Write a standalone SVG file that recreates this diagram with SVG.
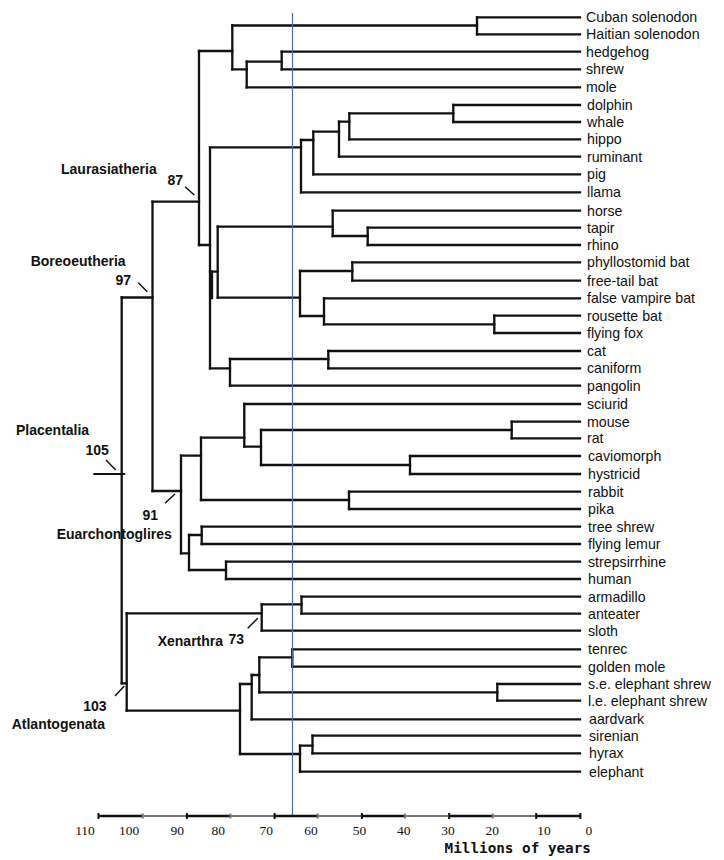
<svg xmlns="http://www.w3.org/2000/svg" width="724" height="860" viewBox="0 0 724 860">
<style>
.br{fill:none;stroke:#111;stroke-width:2.3;stroke-linecap:square;stroke-linejoin:miter}
.tk{fill:none;stroke:#111;stroke-width:1.5}
.leaf{font-family:"Liberation Sans",Arial,sans-serif;font-size:14.2px;fill:#111}
.cl{font-family:"Liberation Sans",Arial,sans-serif;font-size:14px;font-weight:bold;fill:#111}
.num{font-family:"Liberation Serif","Times New Roman",serif;font-size:13.5px;fill:#111;text-anchor:middle}
.axb{stroke:#111;stroke-width:2.6}
.axg{stroke:#777;stroke-width:2.2}
</style>
<rect width="724" height="860" fill="#fff"/>
<g id="connectors">
<path class="br" d="M477 17.3H580M477 34.3H580M281.7 51.7H580M281.7 69.3H580M246.7 87.3H580M453.3 105H580M453.3 122H580M349.3 139.3H580M339 156.7H580M313.3 174.3H580M301 192.3H580M332.7 210.7H580M367.7 227.7H580M367.7 245H580M352.3 262.3H580M352.3 280.7H580M324 298.3H580M494.3 315.7H580M494.3 333H580M328.3 351H580M328.3 368.3H580M230 385.7H580"/>
<path class="br" d="M244.3 404H580M511.7 421.7H580M511.7 438.3H580M410 456H580M410 474H580M349 491.7H580M349 509H580M201.7 526.7H580M201.7 544H580M226 561.7H580M226 579H580M301.5 596.7H580M301.5 613.7H580M261.7 630.7H580M292.3 649.3H580M292.3 666.7H580M497.3 684H580M497.3 700.7H580M251.7 719.3H580M312.5 735.7H580M312.5 753.3H580M300 771.7H580"/>
<path class="br" d="M232.3 25.5H477M232.3 69.3H246.7M246.7 61.7H281.7M199 51H232.3M199 245H210M210 147.3H301M301 140H313.3M313.3 131.7H339M339 121.7H349.3M349.3 113.3H453.3M210 271.7H217.7M217.7 226.7H332.7M332.7 236H367.7M217.7 297.7H300M300 271H352.3M300 316H324M324 324.3H494.3M210 368.3H230M230 359H328.3M152.5 201.7H199M121.7 297.5H152.5"/>
<path class="br" d="M152.5 491H181M181 455.7H201M201 437.7H244.3M244.3 446.7H261M261 430H511.7M261 465H410M201 500H349M181 553.3H189M189 535H201.7M189 570H226M121.7 683.3H126.7M126.7 613.3H261.7M261.7 604.3H301.5M126.7 710.7H240M240 684H251.7M251.7 675H259.3M259.3 657.3H292.3M259.3 692.3H497.3M240 754H300M300 745.7H312.5"/>
<path class="br" d="M477 17.3V34.3M281.7 51.7V69.3M246.7 61.7V87.3M232.3 25.5V69.3M199 51V245M210 147.3V368.3M212 271.7V298M217.7 226.7V297.7M301 140V192.3M313.3 131.7V174.3M339 121.7V156.7M349.3 113.3V139.3M453.3 105V122M332.7 210.7V236M367.7 227.7V245M300 271V316M352.3 262.3V280.7M324 298.3V324.3M494.3 315.7V333M230 359V385.7M328.3 351V368.3"/>
<path class="br" d="M152.5 201.7V491M121.7 297.5V683.3M126.7 613.3V710.7M181 455.7V553.3M201 437.7V500M244.3 404V446.7M261 430V465M511.7 421.7V438.3M410 456V474M349 491.7V509M189 535V570M201.7 526.7V544M226 561.7V579M261.7 604.3V630.7M301.5 596.7V613.7M240 684V754M251.7 675V719.3M259.3 657.3V692.3M292.3 649.3V666.7M497.3 684V700.7M300 745.7V771.7M312.5 735.7V753.3"/>
<path class="tk" d="M185 186.7L194.3 195M138.3 282.7L147.3 291.7M106 460L115.7 470M165 503.3L175 494M247.7 628.3L257.7 618.3M115 696L124.3 686"/>
<path class="br" style="stroke-width:1.8" d="M94.3 474H124.3"/>
</g>
<line x1="292.5" y1="13" x2="292.5" y2="816" stroke="#4a6ea3" stroke-width="1.2"/>
<g id="axis">
<line class="axb" x1="98.5" y1="816" x2="142.7" y2="816"/>
<line class="axg" x1="142.7" y1="816" x2="186.9" y2="816"/>
<line class="axb" x1="186.9" y1="816" x2="230.4" y2="816"/>
<line class="axg" x1="230.4" y1="816" x2="274.6" y2="816"/>
<line class="axb" x1="274.6" y1="816" x2="317.7" y2="816"/>
<line class="axg" x1="317.7" y1="816" x2="361.9" y2="816"/>
<line class="axb" x1="361.9" y1="816" x2="405" y2="816"/>
<line class="axg" x1="405" y1="816" x2="449.2" y2="816"/>
<line class="axb" x1="449.2" y1="816" x2="492.7" y2="816"/>
<line class="axg" x1="492.7" y1="816" x2="536.2" y2="816"/>
<line class="axb" x1="536.2" y1="816" x2="580.4" y2="816"/>
<path stroke="#111" stroke-width="2" d="M98.5 813V819M186.9 813V819M274.6 813V819M361.9 813V819M449.2 813V819M536.2 813V819M580.4 813V819"/>
<path stroke="#777" stroke-width="2" d="M142.7 813.5V818.5M230.4 813.5V818.5M317.7 813.5V818.5M405 813.5V818.5M492.7 813.5V818.5"/>
<text class="num" x="85" y="835">110</text>
<text class="num" x="129.2" y="835">100</text>
<text class="num" x="177.3" y="835">90</text>
<text class="num" x="218.3" y="835">80</text>
<text class="num" x="266.3" y="835">70</text>
<text class="num" x="311" y="835">60</text>
<text class="num" x="359.4" y="835">50</text>
<text class="num" x="403.7" y="835">40</text>
<text class="num" x="448" y="835">30</text>
<text class="num" x="492.3" y="835">20</text>
<text class="num" x="544" y="835">10</text>
<text class="num" x="588.8" y="835">0</text>
<text x="444.6" y="853" font-family="DejaVu Sans Mono, monospace" font-size="14.3" font-weight="bold" fill="#111">Millions of years</text>
</g>
<g id="clade-labels">
<g id="laurasiatheria"><text class="cl" x="61" y="174">Laurasiatheria</text><text class="cl" x="167.5" y="185">87</text></g>
<g id="boreoeutheria"><text class="cl" x="30.7" y="266">Boreoeutheria</text><text class="cl" x="115.5" y="284.5">97</text></g>
<g id="placentalia"><text class="cl" x="16" y="434.5">Placentalia</text><text class="cl" x="85.5" y="454.5">105</text></g>
<g id="euarchontoglires"><text class="cl" x="142.5" y="520">91</text><text class="cl" x="56.7" y="538.5">Euarchontoglires</text></g>
<g id="xenarthra"><text class="cl" x="157.7" y="646">Xenarthra</text><text class="cl" x="228.5" y="644">73</text></g>
<g id="atlantogenata"><text class="cl" x="83.3" y="711">103</text><text class="cl" x="11.7" y="728.5">Atlantogenata</text></g>
</g>
<g id="leaves">
<g id="n-cuban-solenodon"><text class="leaf" x="586" y="22.3">Cuban solenodon</text></g>
<g id="n-haitian-solenodon"><text class="leaf" x="586" y="39.3">Haitian solenodon</text></g>
<g id="n-hedgehog"><text class="leaf" x="586" y="56.7">hedgehog</text></g>
<g id="n-shrew"><text class="leaf" x="586" y="74.3">shrew</text></g>
<g id="n-mole"><text class="leaf" x="586" y="92.3">mole</text></g>
<g id="n-dolphin"><text class="leaf" x="587" y="110">dolphin</text></g>
<g id="n-whale"><text class="leaf" x="587" y="127">whale</text></g>
<g id="n-hippo"><text class="leaf" x="587" y="144.3">hippo</text></g>
<g id="n-ruminant"><text class="leaf" x="587" y="161.7">ruminant</text></g>
<g id="n-pig"><text class="leaf" x="587" y="179.3">pig</text></g>
<g id="n-llama"><text class="leaf" x="587" y="197.3">llama</text></g>
<g id="n-horse"><text class="leaf" x="587" y="215.7">horse</text></g>
<g id="n-tapir"><text class="leaf" x="587" y="232.7">tapir</text></g>
<g id="n-rhino"><text class="leaf" x="587" y="250">rhino</text></g>
<g id="n-phyllostomid-bat"><text class="leaf" x="587" y="267.3">phyllostomid bat</text></g>
<g id="n-free-tail-bat"><text class="leaf" x="587" y="285.7">free-tail bat</text></g>
<g id="n-false-vampire-bat"><text class="leaf" x="587" y="303.3">false vampire bat</text></g>
<g id="n-rousette-bat"><text class="leaf" x="587" y="320.7">rousette bat</text></g>
<g id="n-flying-fox"><text class="leaf" x="587" y="338">flying fox</text></g>
<g id="n-cat"><text class="leaf" x="587" y="356">cat</text></g>
<g id="n-caniform"><text class="leaf" x="587" y="373.3">caniform</text></g>
<g id="n-pangolin"><text class="leaf" x="587" y="390.7">pangolin</text></g>
<g id="n-sciurid"><text class="leaf" x="587" y="409">sciurid</text></g>
<g id="n-mouse"><text class="leaf" x="587" y="426.7">mouse</text></g>
<g id="n-rat"><text class="leaf" x="587" y="443.3">rat</text></g>
<g id="n-caviomorph"><text class="leaf" x="588" y="461">caviomorph</text></g>
<g id="n-hystricid"><text class="leaf" x="588" y="479">hystricid</text></g>
<g id="n-rabbit"><text class="leaf" x="588" y="496.7">rabbit</text></g>
<g id="n-pika"><text class="leaf" x="588" y="514">pika</text></g>
<g id="n-tree-shrew"><text class="leaf" x="588" y="531.7">tree shrew</text></g>
<g id="n-flying-lemur"><text class="leaf" x="588" y="549">flying lemur</text></g>
<g id="n-strepsirrhine"><text class="leaf" x="588" y="566.7">strepsirrhine</text></g>
<g id="n-human"><text class="leaf" x="588" y="584">human</text></g>
<g id="n-armadillo"><text class="leaf" x="588" y="601.7">armadillo</text></g>
<g id="n-anteater"><text class="leaf" x="588" y="618.7">anteater</text></g>
<g id="n-sloth"><text class="leaf" x="588" y="635.7">sloth</text></g>
<g id="n-tenrec"><text class="leaf" x="588" y="654.3">tenrec</text></g>
<g id="n-golden-mole"><text class="leaf" x="588" y="671.7">golden mole</text></g>
<g id="n-se-elephant-shrew"><text class="leaf" x="588" y="689">s.e. elephant shrew</text></g>
<g id="n-le-elephant-shrew"><text class="leaf" x="588" y="705.7">l.e. elephant shrew</text></g>
<g id="n-aardvark"><text class="leaf" x="589" y="724.3">aardvark</text></g>
<g id="n-sirenian"><text class="leaf" x="589" y="740.7">sirenian</text></g>
<g id="n-hyrax"><text class="leaf" x="589" y="758.3">hyrax</text></g>
<g id="n-elephant"><text class="leaf" x="589" y="776.7">elephant</text></g>
</g>
</svg>
